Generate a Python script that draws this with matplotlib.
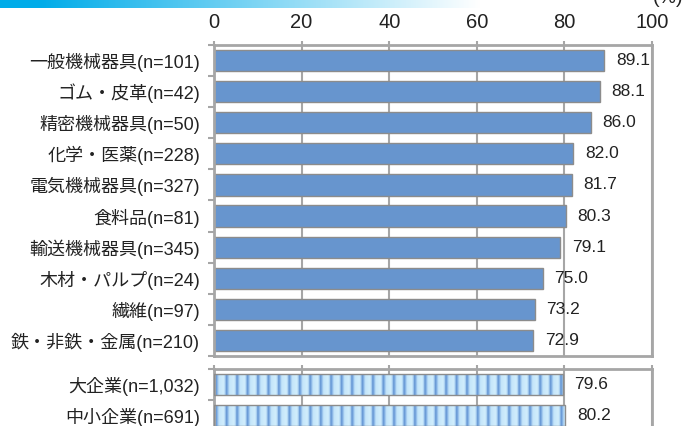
import numpy as np
import matplotlib
matplotlib.use('Agg')
import matplotlib.pyplot as plt

plt.rcParams['font.family'] = ['Liberation Sans', 'Noto Sans CJK JP']

industries = ['一般機械器具(n=101)', 'ゴム・皮革(n=42)', '精密機械器具(n=50)',
              '化学・医薬(n=228)', '電気機械器具(n=327)', '食料品(n=81)',
              '輸送機械器具(n=345)', '木材・パルプ(n=24)', '繊維(n=97)',
              '鉄・非鉄・金属(n=210)']
industry_vals = [89.1, 88.1, 86.0, 82.0, 81.7, 80.3, 79.1, 75.0, 73.2, 72.9]

sizes = ['大企業(n=1,032)', '中小企業(n=691)']
size_vals = [79.6, 80.2]

x_ticks = [0, 20, 40, 60, 80, 100]

BAR_BLUE = '#6795CE'
EDGE = '#8c8c8c'
GRID = '#a6a6a6'

W, H = 686, 426
fig = plt.figure(figsize=(W / 100, H / 100), dpi=100)


def px_axes(left, top, right, bottom):
    return fig.add_axes([left / W, 1 - bottom / H, (right - left) / W, (bottom - top) / H])


# header band fading from cyan to white
band = fig.add_axes([0, 1 - 8 / H, 1, 8 / H])
xs = np.linspace(0, 1, 686)
fade = np.clip((xs * 686 - 40) / 440, 0, 1)
c0 = np.array([0, 172, 233]) / 255
c1 = np.array([1.0, 1.0, 1.0])
row = c0[None, :] * (1 - fade[:, None]) + c1[None, :] * fade[:, None]
band.imshow(row[None, :, :], aspect='auto', extent=[0, 1, 0, 1])
band.axis('off')
fig.text(683 / W, 1 - 3 / H, '(%)', ha='right', va='baseline', fontsize=14, color='#222222')


def style_axes(ax, labels, top_labels):
    n = len(labels)
    ax.set_xlim(0, 100)
    ax.set_ylim(n - 0.5, -0.5)
    ax.set_xticks(x_ticks)
    ax.xaxis.tick_top()
    ax.tick_params(axis='x', length=3, width=1.5, color=GRID, labelsize=14.5,
                   labelcolor='#222222', pad=6, labeltop=top_labels)
    ax.set_yticks(range(n))
    ax.set_yticklabels(labels)
    ax.set_yticks(np.arange(-0.5, n - 0.4, 1), minor=True)
    ax.tick_params(axis='y', which='major', length=0, pad=10, labelsize=13, labelcolor='#222222')
    ax.tick_params(axis='y', which='minor', length=4, width=1.5, color=GRID)
    for s in ax.spines.values():
        s.set_color(GRID)
        s.set_linewidth(2)
    ax.grid(axis='x', color=GRID, linewidth=1.5)
    ax.set_axisbelow(True)


def label_bars(ax, vals):
    for i, v in enumerate(vals):
        ax.annotate(f'{v:.1f}', (v, i), xytext=(8.5, 0), textcoords='offset points',
                    va='center', ha='left', fontsize=12.5, color='#222222')


# industries
ax1 = px_axes(214, 45, 652, 356)
ax1.barh(range(len(industries)), industry_vals, height=0.68, color=BAR_BLUE,
         edgecolor=EDGE, linewidth=1)
style_axes(ax1, industries, True)
label_bars(ax1, industry_vals)

# firm size, striped bars
ax2 = px_axes(214, 369, 652, 431)
bars = ax2.barh(range(len(sizes)), size_vals, height=0.66, color='none',
                edgecolor=EDGE, linewidth=1, zorder=3)
period = 2.385
phase = 0.4
xx = np.linspace(0, 100, 2000)
t = ((xx - phase) / period) % 1.0
stops = [0.0, 0.12, 0.3, 0.75, 0.9, 1.0]
cols = np.array([[93, 143, 207], [128, 174, 227], [196, 229, 250],
                 [210, 238, 252], [170, 208, 242], [93, 143, 207]]) / 255
tex = np.stack([np.interp(t, stops, cols[:, k]) for k in range(3)], axis=-1)
for b in bars:
    y0 = b.get_y()
    im = ax2.imshow(tex[None, :, :], aspect='auto', extent=[0, 100, y0 + b.get_height(), y0],
                    zorder=2, interpolation='bilinear')
    im.set_clip_path(b)
style_axes(ax2, sizes, False)
label_bars(ax2, size_vals)

fig.savefig('out.png', dpi=100)
